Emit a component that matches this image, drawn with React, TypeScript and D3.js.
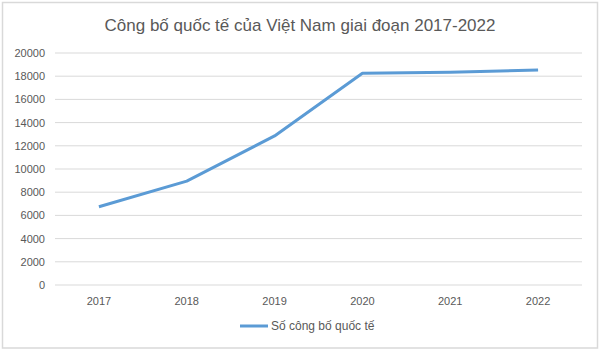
import React from 'react';
import * as d3 from 'd3';

const years = ['2017', '2018', '2019', '2020', '2021', '2022'];
const publications = [6750, 8950, 12850, 18250, 18330, 18530];
const yTicks = [0, 2000, 4000, 6000, 8000, 10000, 12000, 14000, 16000, 18000, 20000];
const title = 'Công bố quốc tế của Việt Nam giai đoạn 2017-2022';
const seriesName = 'Số công bố quốc tế';

const W = 600;
const H = 352;
const font = 'Liberation Sans, Arial, sans-serif';

export default function App() {
  // plot area
  const left = 55, right = 582, top = 53, bottom = 285;
  const x = d3.scaleBand().domain(years).range([left, right]);
  const y = d3.scaleLinear().domain([0, 20000]).range([bottom, top]);
  const line = d3.line<number>()
    .x((d, i) => (x(years[i]) as number) + x.bandwidth() / 2)
    .y(d => y(d));

  return (
    <svg width={W} height={H} style={{ position: 'absolute', left: 0, top: 0, fontFamily: font }}>
      <rect x={0} y={0} width={W} height={H} fill="#fff" />
      <rect x={2.5} y={2.5} width={595} height={345.5} fill="none" stroke="#d9d9d9" strokeWidth={1.5} />
      <text x={W / 2} y={31} textAnchor="middle" fontSize={17} fill="#595959">{title}</text>

      {yTicks.map(t => (
        <g key={t}>
          <line x1={left} x2={right} y1={y(t)} y2={y(t)} stroke="#d9d9d9" strokeWidth={1} />
          <text x={45} y={y(t) + 4} textAnchor="end" fontSize={11} fill="#595959">{t}</text>
        </g>
      ))}

      {years.map(yr => (
        <text key={yr} x={(x(yr) as number) + x.bandwidth() / 2} y={305} textAnchor="middle" fontSize={11} fill="#595959">{yr}</text>
      ))}

      <path d={line(publications) || ''} fill="none" stroke="#5b9bd5" strokeWidth={3} strokeLinejoin="round" />

      <line x1={240} x2={268} y1={326} y2={326} stroke="#5b9bd5" strokeWidth={3} />
      <text x={271} y={330} fontSize={12} fill="#595959">{seriesName}</text>
    </svg>
  );
}
